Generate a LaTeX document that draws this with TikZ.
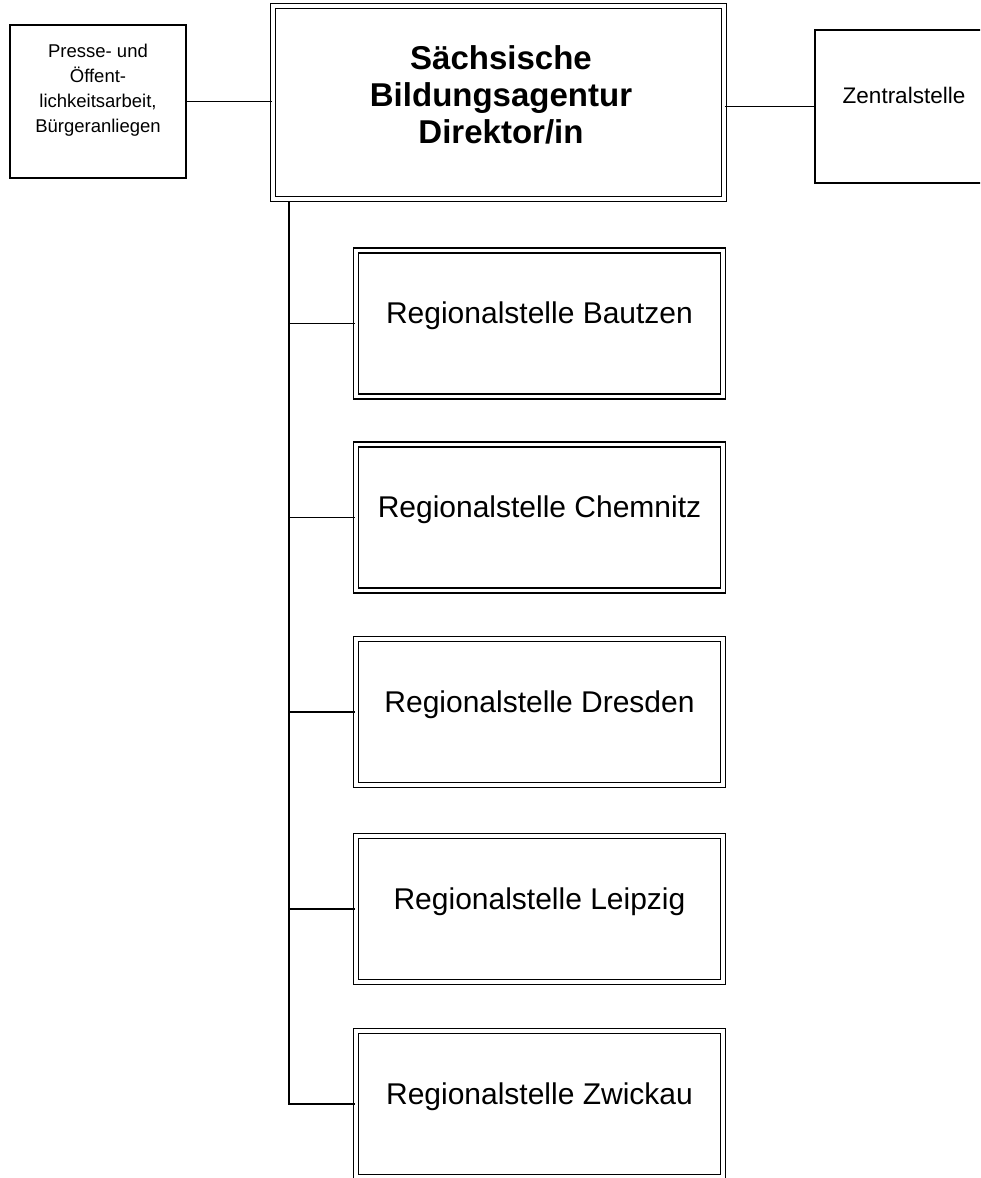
\documentclass[tikz,border=0pt]{standalone}
\usepackage{fontspec}
\setmainfont{Liberation Sans}
\usepackage{tikz}

\begin{document}
\begin{tikzpicture}[x=1pt,y=-1pt,
  einfach/.style={draw,line width=2pt,rectangle,inner sep=0pt,minimum width=176pt,minimum height=153pt},
  doppelt/.style={draw,double,double distance=3.5pt,line width=1.5pt,rectangle,inner sep=0pt},
  regio/.style={doppelt,minimum width=367pt,minimum height=146pt,font=\fontsize{30}{36}\selectfont,text height=16pt,text depth=16pt},
  mehrzeilig/.style={align=center,anchor=north,inner sep=0pt},
  linie/.style={line width=1.8pt}]
\useasboundingbox (0,0) rectangle (980,1178);
\clip (0,0) rectangle (980,1178);

% Leitung
\node[doppelt,minimum width=451pt,minimum height=193pt] (dir) at (498.5,102.5) {};
\node[mehrzeilig,font=\bfseries\fontsize{33}{37}\selectfont] (dirtext) at (501,45) {Sächsische\\Bildungsagentur\\Direktor/in};

% Stabsstelle und Zentralstelle
\node[einfach] (presse) at (98,101.5) {};
\node[mehrzeilig,font=\fontsize{18.5}{25}\selectfont] (pressetext) at (98,43.5) {Presse- und\\Öffent-\\lichkeitsarbeit,\\Bürgeranliegen};
\node[einfach,minimum width=178pt,font=\fontsize{22.5}{27}\selectfont,text height=10pt,text depth=17pt] (zentral) at (904,106.5) {Zentralstelle};

% Regionalstellen
\node[regio] (bautzen) at (539.5,323.5) {Regionalstelle Bautzen};
\node[regio] (chemnitz) at (539.5,517.5) {Regionalstelle Chemnitz};
\node[regio] (dresden) at (539.5,712) {Regionalstelle Dresden};
\node[regio] (leipzig) at (539.5,909) {Regionalstelle Leipzig};
\node[regio] (zwickau) at (539.5,1104) {Regionalstelle Zwickau};

% Verbindungen
\draw[linie] (presse.east) -- (presse.east -| dir.west);
\draw[linie] (dir.east |- zentral.west) -- (zentral.west);
\coordinate (trunk) at (289,202);
\draw[linie] (trunk) |- (zwickau.west);
\draw[linie] (trunk |- bautzen.west) -- (bautzen.west);
\draw[linie] (trunk |- chemnitz.west) -- (chemnitz.west);
\draw[linie] (trunk |- dresden.west) -- (dresden.west);
\draw[linie] (trunk |- leipzig.west) -- (leipzig.west);
\end{tikzpicture}
\end{document}
